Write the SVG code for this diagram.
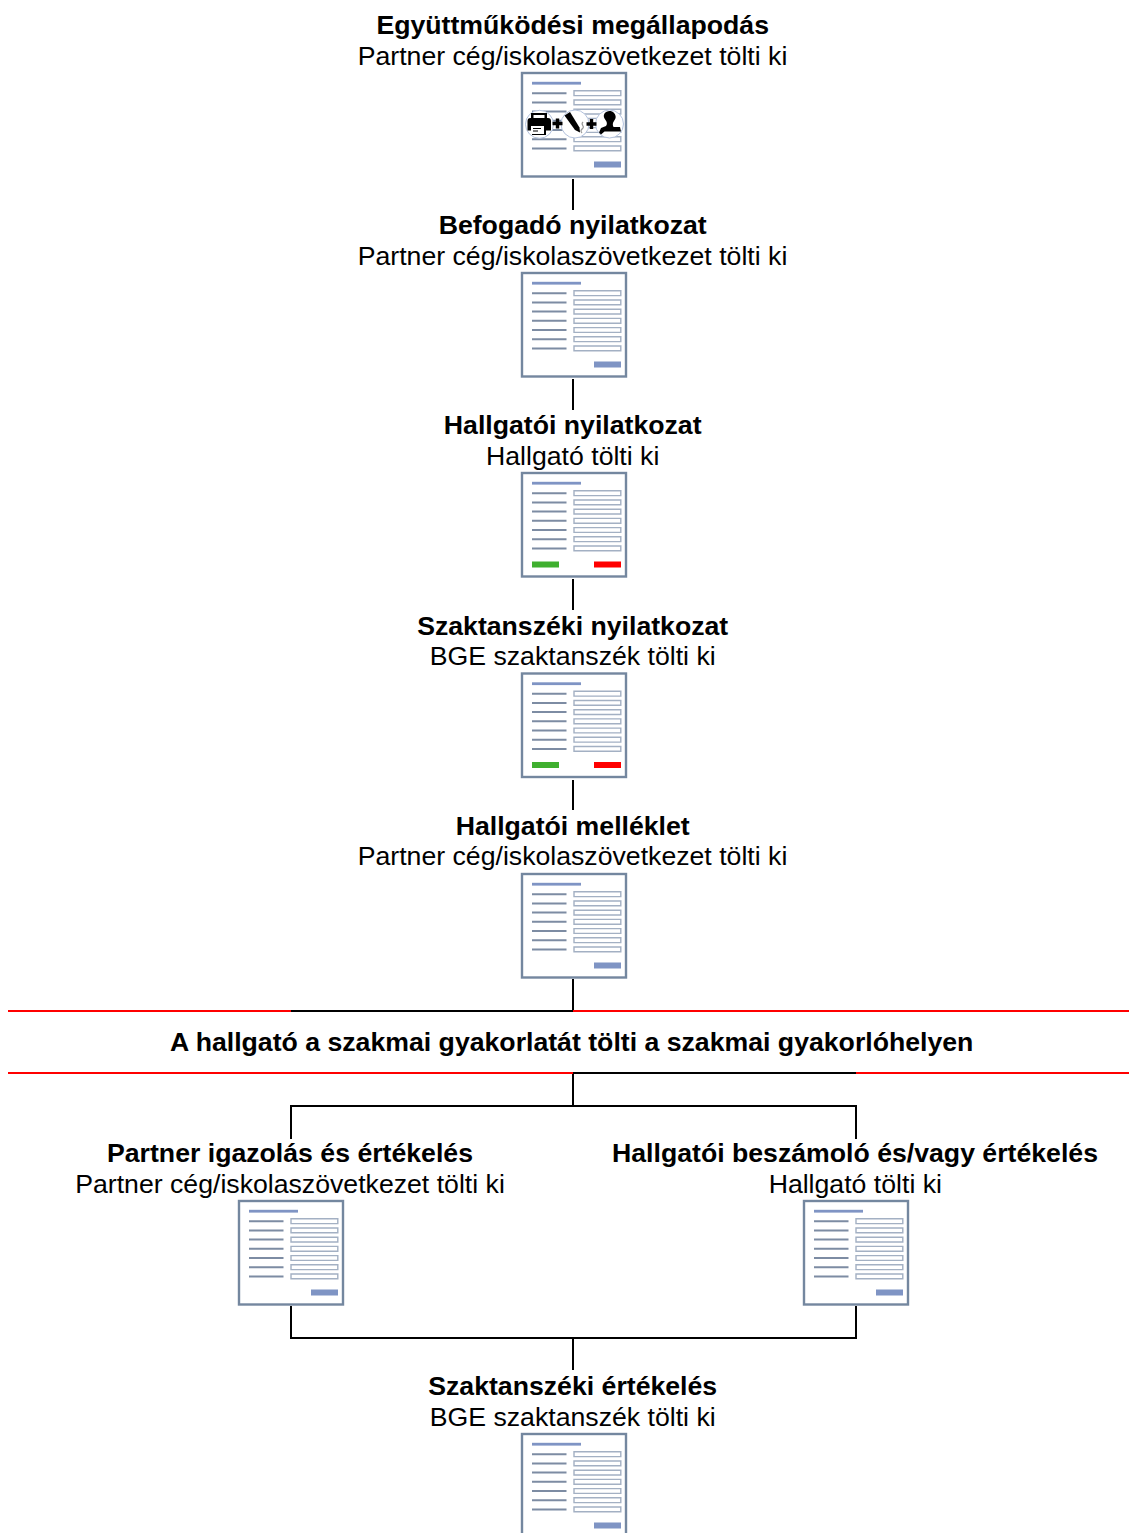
<svg xmlns="http://www.w3.org/2000/svg" width="1129" height="1533" viewBox="0 0 1129 1533">
<style>
text{font-family:"Liberation Sans",Arial,sans-serif;font-size:26.67px;text-anchor:middle;fill:#000}
.b{font-weight:bold}
.c{fill:none;stroke:#000;stroke-width:2}
.r{fill:none;stroke:#f00;stroke-width:2}
.f{fill:#fff;stroke:#74879f;stroke-width:2.4}
.t{fill:#7f94c4}
.l{stroke:#7d8ca3;stroke-width:2;fill:none}
.i{fill:#fff;stroke:#a3b0c3;stroke-width:1.4}
.o{fill:#fff;stroke:#b4c3de;stroke-width:1}
</style>
<defs>
<g id="rows">
<rect class="f" x="0" y="0" width="104" height="103.500"/>
<rect class="t" x="10" y="8.800" width="49" height="2.800"/>
<path class="l" d="M10 20.200H44.500M10 29.400H44.500M10 38.600H44.500M10 47.800H44.500M10 57H44.500M10 66.200H44.500M10 75.400H44.500"/>
<path class="i" d="M52 17.800H98.800V22.600H52ZM52 27H98.800V31.800H52ZM52 36.200H98.800V41H52ZM52 45.400H98.800V50.200H52ZM52 54.600H98.800V59.400H52ZM52 63.800H98.800V68.600H52ZM52 73H98.800V77.800H52Z"/>
</g>
<g id="form"><use href="#rows"/><rect class="t" x="72" y="88.500" width="27" height="6"/></g>
<g id="signed"><use href="#rows"/><rect fill="#3faf2f" x="10" y="88.500" width="27" height="6"/><rect fill="#f00" x="72" y="88.500" width="27" height="6"/></g>
</defs>
<g id="connectors">
<path class="c" d="M573 179V210M573 379V410M573 579V610M573 780V810M573 979V1011M291 1011H573M573 1073H856M573 1073V1106M291 1139V1106H856V1139M291 1306V1338H856V1306M573 1338V1370"/>
<path class="r" d="M8 1011H291M573 1011H1129M8 1073H573M856 1073H1129"/>
</g>
<g id="node1"><text class="b" x="572.700" y="34">Együttműködési megállapodás</text><text x="572.500" y="65">Partner cég/iskolaszövetkezet tölti ki</text><use href="#form" x="522" y="73"/>
<g id="sign-icons">
<circle class="o" cx="575" cy="124" r="14"/><circle class="o" cx="539.500" cy="124.300" r="14"/><circle class="o" cx="609.500" cy="124" r="14"/>
<path d="M531 113h16v5h1a3 3 0 0 1 3 3v9.500h-5v4.500h-14v-4.500h-4.500v-9.500a3 3 0 0 1 3-3h.5z" fill="#000"/><rect x="533.500" y="115" width="11" height="3" fill="#fff"/><rect x="531" y="126" width="13" height="8" fill="#fff"/><path d="M533 128.500h8M533 131h5" stroke="#000" stroke-width="1.200" fill="none"/>
<path d="M552.500 123.500h10M557.500 118.500v10M586.500 124h10M591.500 119v10" stroke="#000" stroke-width="3.400" fill="none"/>
<path d="M564.500 115.500l5.500-3.500 9.500 15.500.5 5-5-2.500z" fill="#000"/><path d="M583 122c-3 3 2 4 0 6s-3 3-1 5" stroke="#999" stroke-width="1.200" fill="none"/>
<path d="M604.500 113.500c2-3 7-3.500 9.500-.5s2 5.500 0 8c-1.500 2-1.500 4-.5 6h6.500l1 4.500h-16.500l-3.500 3-2-2 2-4.500 5-2c1.500-2 1-4-.5-6s-2.500-4-1-6.500z" fill="#000"/>
</g></g>
<g id="node2"><text class="b" x="572.700" y="234">Befogadó nyilatkozat</text><text x="572.500" y="265">Partner cég/iskolaszövetkezet tölti ki</text><use href="#form" x="522" y="273"/></g>
<g id="node3"><text class="b" x="572.700" y="434">Hallgatói nyilatkozat</text><text x="572.700" y="465">Hallgató tölti ki</text><use href="#signed" x="522" y="473"/></g>
<g id="node4"><text class="b" x="572.700" y="635">Szaktanszéki nyilatkozat</text><text x="572.700" y="665">BGE szaktanszék tölti ki</text><use href="#signed" x="522" y="673.500"/></g>
<g id="node5"><text class="b" x="572.700" y="835">Hallgatói melléklet</text><text x="572.500" y="865">Partner cég/iskolaszövetkezet tölti ki</text><use href="#form" x="522" y="874"/></g>
<g id="banner"><text class="b" x="571.700" y="1051">A hallgató a szakmai gyakorlatát tölti a szakmai gyakorlóhelyen</text></g>
<g id="node6"><text class="b" x="290" y="1162">Partner igazolás és értékelés</text><text x="290" y="1193">Partner cég/iskolaszövetkezet tölti ki</text><use href="#form" x="239" y="1201"/></g>
<g id="node7"><text class="b" x="855" y="1162">Hallgatói beszámoló és/vagy értékelés</text><text x="855.300" y="1193">Hallgató tölti ki</text><use href="#form" x="804" y="1201"/></g>
<g id="node8"><text class="b" x="572.700" y="1395">Szaktanszéki értékelés</text><text x="572.700" y="1426">BGE szaktanszék tölti ki</text><use href="#form" x="522" y="1434"/></g>
</svg>
